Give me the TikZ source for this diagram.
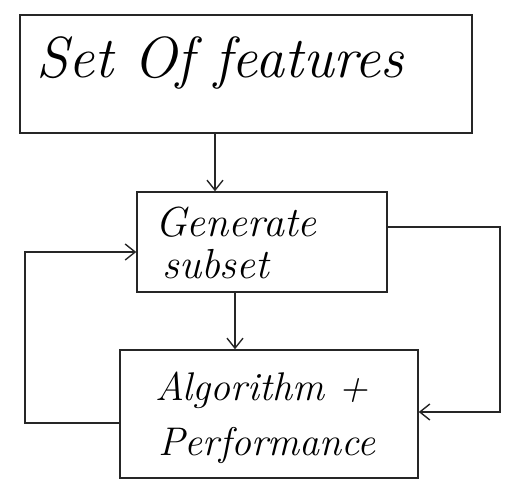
\documentclass[tikz,border=0pt]{standalone}
\usetikzlibrary{arrows.meta,calc}
\begin{document}
\begin{tikzpicture}[x=1pt,y=-1pt,
  ink/.style={draw=black!85,line width=1.4pt},
  box/.style={ink,rectangle,inner sep=0pt},
  lbl/.style={inner sep=0pt,anchor=base west},
  arr/.style={ink,-{Straight Barb[length=10pt,width=16pt,line width=1.4pt]}}]
\useasboundingbox (0,0) rectangle (510,497);
\node[box,minimum width=452pt,minimum height=118pt] (b1) at (246,74) {};
\node[lbl,font=\itshape\fontsize{58}{60}\selectfont] (t1) at (36,78) {Set Of features};
\node[box,minimum width=250pt,minimum height=100pt] (b2) at (262,242) {};
\node[lbl,font=\itshape\fontsize{42}{42}\selectfont] (t2a) at (155,236) {Generate};
\node[lbl,font=\itshape\fontsize{42}{42}\selectfont] (t2b) at (162,278) {subset};
\node[box,minimum width=298pt,minimum height=128pt] (b3) at (269,414) {};
\node[lbl,font=\itshape\fontsize{40}{40}\selectfont] (t3a) at (155,400) {Algorithm +};
\node[lbl,font=\itshape\fontsize{40}{40}\selectfont] (t3b) at (158,455) {Performance};
\coordinate (a1s) at ($(b1.south)+(-31,0)$);
\coordinate (a2s) at ($(b2.south)+(-27,0)$);
\draw[arr] (a1s) -- (a1s |- b2.north);
\draw[arr] (a2s) -- (a2s |- b3.north);
\coordinate (l1) at ($(b3.west)+(0,9)$);
\coordinate (l2) at ($(b2.west)+(0,10)$);
\coordinate (lx) at (25,0);
\coordinate (r1) at ($(b2.east)+(0,-15)$);
\coordinate (r2) at ($(b3.east)+(0,-2)$);
\coordinate (rx) at (500,0);
\draw[arr] (l1) -| (lx |- l2) -- (l2);
\draw[arr] (r1) -| (rx |- r2) -- (r2);
\end{tikzpicture}
\end{document}
